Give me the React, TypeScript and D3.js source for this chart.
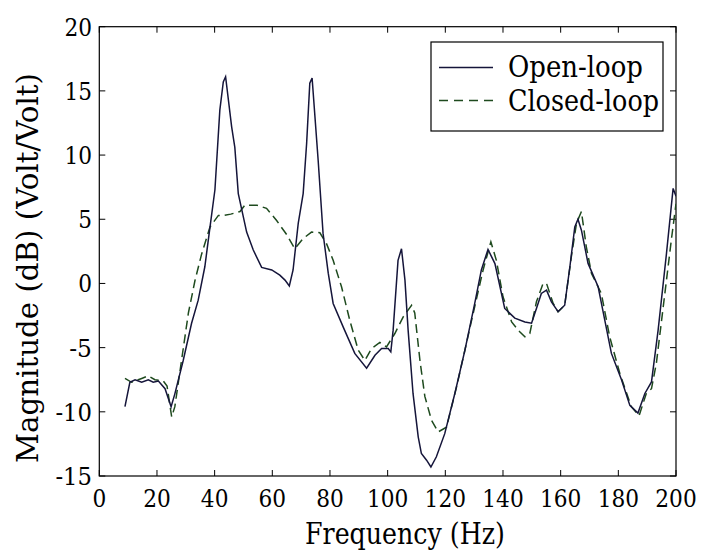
import React from "react";
import * as d3 from "d3";

// ---- Data ----
const openFreq = [8.9, 10.6, 12.4, 14.7, 17, 18.7, 20.5, 22.8, 24.9, 26.2, 29.1, 32, 34.3, 36.6, 38.4, 40.1, 41.8, 43, 43.8, 45.9, 47, 48.2, 51.1, 53.4, 56.3, 59.8, 62.6, 64.4, 65.9, 67.2, 69, 70.7, 71.9, 73, 73.8, 75.9, 77.6, 79.4, 81.1, 84.6, 88.6, 92.7, 95.6, 97.9, 100.2, 101.1, 101.9, 103.6, 104.8, 106, 107.1, 108.8, 110.6, 111.7, 113.5, 115, 116.9, 119.8, 123.3, 126.8, 130.2, 132.5, 134.8, 137.2, 140.6, 144.1, 147.6, 149.9, 151.6, 153.3, 155.1, 156.8, 159.1, 161.4, 163.2, 164.9, 166, 167.2, 169.5, 173, 175.3, 177.6, 181.1, 184, 186.8, 189.2, 191.5, 193.8, 196.7, 199, 200];
const openMag = [-9.6, -7.7, -7.5, -7.7, -7.5, -7.7, -7.6, -8.2, -9.6, -8.6, -6.0, -3.1, -1.3, 1.3, 4.4, 7.3, 13.5, 15.7, 16.1, 12.2, 10.6, 7.0, 4.0, 2.6, 1.25, 1.05, 0.65, 0.26, -0.2, 1.05, 4.7, 7.0, 10.9, 15.6, 16.0, 9.6, 3.9, 0.8, -1.56, -3.4, -5.45, -6.6, -5.6, -5.07, -5.07, -5.33, -3.64, 1.8, 2.7, 0.26, -3.64, -8.57, -11.95, -13.25, -13.77, -14.3, -13.5, -11.7, -8.57, -5.2, -1.56, 1.05, 2.65, 1.55, -1.95, -2.7, -3.0, -3.1, -1.95, -0.78, -0.52, -1.43, -2.2, -1.7, 1.3, 4.4, 5.0, 4.15, 1.56, -0.26, -2.86, -5.45, -7.5, -9.5, -10.1, -8.57, -7.67, -3.64, 2.34, 7.4, 6.8];

const closedFreq = [8.9, 11.2, 14.7, 17, 19.3, 22.2, 23.5, 25.1, 26.2, 28, 30.9, 33.2, 35.5, 38.4, 41.3, 43.3, 45.6, 48.8, 50.5, 54.6, 58, 61.5, 65, 67.8, 70.7, 73.6, 76.5, 78.8, 81.1, 84, 86.9, 89.8, 92.1, 94.4, 97.3, 99.6, 102.5, 105.4, 108.3, 109.4, 111.2, 112.9, 115.2, 117.5, 120.4, 123.9, 127.3, 130.2, 133.1, 135.8, 137.7, 140, 143, 145.8, 147.6, 149.3, 151.6, 153.9, 155.1, 157.4, 159.1, 161.4, 163.7, 165.5, 167.2, 168.9, 170.7, 174.1, 177, 180.5, 184.5, 187.2, 189.7, 191.5, 193.2, 196.7, 198.5, 200];
const closedMag = [-7.4, -7.7, -7.4, -7.2, -7.5, -7.6, -8.0, -10.4, -9.6, -6.8, -2.3, 0.25, 2.3, 4.4, 5.3, 5.3, 5.4, 5.6, 6.1, 6.1, 5.85, 4.9, 3.8, 2.7, 3.5, 4.0, 3.95, 3.1, 1.8, -0.26, -2.9, -5.2, -6.0, -5.07, -4.6, -4.94, -3.9, -2.6, -1.7, -2.3, -6.0, -8.8, -10.65, -11.57, -11.2, -8.06, -4.68, -1.8, 1.05, 3.24, 1.8, -1.04, -3.0, -3.77, -4.16, -3.9, -1.43, 0.0, 0.0, -1.56, -2.2, -1.7, 2.07, 4.7, 5.6, 2.85, 0.78, -0.78, -4.16, -7.0, -9.6, -10.3, -8.57, -8.2, -6.2, 0.26, 3.6, 6.2];

const xTicks = [0, 20, 40, 60, 80, 100, 120, 140, 160, 180, 200];
const yTicks = [-15, -10, -5, 0, 5, 10, 15, 20];
const seriesNames = ["Open-loop", "Closed-loop"];
const xLabel = "Frequency (Hz)";
const yLabel = "Magnitude (dB) (Volt/Volt)";

const W = 706;
const H = 554;
const left = 99.3;
const right = 676;
const top = 26.7;
const bottom = 476;
const FONT = '"DejaVu Serif", serif';
const OPEN_COLOR = "#15153a";
const CLOSED_COLOR = "#1e4a1e";
const txt = { fontFamily: FONT };

export default function App() {
  const x = d3.scaleLinear().domain([0, 200]).range([left, right]);
  const y = d3.scaleLinear().domain([-15, 20]).range([bottom, top]);

  const line = d3
    .line<[number, number]>()
    .x((d) => x(d[0]))
    .y((d) => y(d[1]));

  const openPts: [number, number][] = openFreq.map((f, i) => [f, openMag[i]]);
  const closedPts: [number, number][] = closedFreq.map((f, i) => [f, closedMag[i]]);

  const tick = 6;
  const tickW = (t: number) => String(t).replace("-", "").length * 13.8 + (t < 0 ? 9 : 0);

  return (
    <svg
      width={W}
      height={H}
      style={{ position: "absolute", left: 0, top: 0, background: "#fff", fontFamily: FONT }}
    >
      <rect x={0} y={0} width={W} height={H} fill="#fff" />
      <defs>
        <clipPath id="plotclip">
          <rect x={left} y={top} width={right - left} height={bottom - top} />
        </clipPath>
      </defs>

      {/* frame */}
      <rect x={left} y={top} width={right - left} height={bottom - top} fill="none" stroke="#000" strokeWidth={1.2} />

      {/* x ticks */}
      {xTicks.map((t) => (
        <g key={"xt" + t}>
          <line x1={x(t)} x2={x(t)} y1={bottom} y2={bottom - tick} stroke="#000" strokeWidth={1} />
          <line x1={x(t)} x2={x(t)} y1={top} y2={top + tick} stroke="#000" strokeWidth={1} />
          <text
            x={x(t)}
            y={506.5}
            fontSize={25}
            textAnchor="middle"
            fill="#000"
            style={txt}
            textLength={tickW(t)}
            lengthAdjust="spacingAndGlyphs"
          >
            {t}
          </text>
        </g>
      ))}

      {/* y ticks */}
      {yTicks.map((t) => (
        <g key={"yt" + t}>
          <line x1={left} x2={left + tick} y1={y(t)} y2={y(t)} stroke="#000" strokeWidth={1} />
          <line x1={right} x2={right - tick} y1={y(t)} y2={y(t)} stroke="#000" strokeWidth={1} />
          <text
            x={92}
            y={y(t)}
            dy="0.36em"
            fontSize={25}
            textAnchor="end"
            fill="#000"
            style={txt}
            textLength={tickW(t)}
            lengthAdjust="spacingAndGlyphs"
          >
            {t}
          </text>
        </g>
      ))}

      {/* series */}
      <g clipPath="url(#plotclip)">
        <path d={line(closedPts) || ""} fill="none" stroke={CLOSED_COLOR} strokeWidth={1.5} strokeDasharray="9,5" />
        <path d={line(openPts) || ""} fill="none" stroke={OPEN_COLOR} strokeWidth={1.5} />
      </g>

      {/* legend */}
      <rect x={431} y={42} width={232} height={89} fill="#fff" stroke="#000" strokeWidth={1.2} />
      <line x1={439} x2={493} y1={67.5} y2={67.5} stroke={OPEN_COLOR} strokeWidth={1.3} />
      <line x1={439} x2={493} y1={100.5} y2={100.5} stroke={CLOSED_COLOR} strokeWidth={1.3} strokeDasharray="9,6" />
      <text x={508} y={76.7} fontSize={29} fill="#000" style={txt} textLength={135} lengthAdjust="spacingAndGlyphs">
        {seriesNames[0]}
      </text>
      <text x={508} y={111} fontSize={29} fill="#000" style={txt} textLength={151} lengthAdjust="spacingAndGlyphs">
        {seriesNames[1]}
      </text>

      {/* axis labels */}
      <text
        x={305}
        y={544}
        fontSize={29}
        fill="#000"
        style={txt}
        textLength={200}
        lengthAdjust="spacingAndGlyphs"
      >
        {xLabel}
      </text>
      <text
        transform={`translate(37.5, 463) rotate(-90)`}
        fontSize={30}
        fill="#000"
        style={txt}
        textLength={390}
        lengthAdjust="spacingAndGlyphs"
      >
        {yLabel}
      </text>
    </svg>
  );
}
